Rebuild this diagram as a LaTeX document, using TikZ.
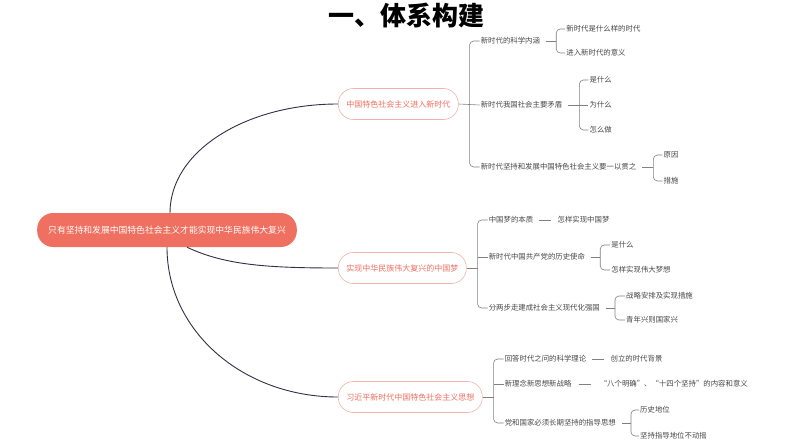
\documentclass[tikz,border=0pt]{standalone}
\usepackage{fontspec}
\newfontfamily\cjk{Noto Sans CJK SC}
\usepackage{xcolor}
\usetikzlibrary{positioning, calc}

\definecolor{salmon}{HTML}{EF6F60}
\definecolor{pale}{HTML}{F0B4AC}
\definecolor{navy}{HTML}{2E3046}
\definecolor{txt}{HTML}{464646}
\definecolor{twig}{HTML}{808080}

\begin{document}
\begin{tikzpicture}[
    x=1pt, y=-1pt,
    font=\cjk,
    root/.style={fill=salmon, text=white, rounded corners=16pt, minimum height=34pt, inner xsep=11pt, font=\cjk\fontsize{8.8}{10}\selectfont},
    topic/.style={draw=pale, fill=white, text=salmon, rounded corners=15pt, minimum height=31pt, inner xsep=8pt, line width=0.6pt, font=\cjk\fontsize{8}{10}\selectfont},
    leaf/.style={anchor=west, inner sep=1pt, text=txt, font=\cjk\fontsize{7.4}{9}\selectfont},
    trunk/.style={draw=navy, line width=0.9pt},
    twig/.style={draw=twig, line width=0.6pt, rounded corners=4pt}
]
\useasboundingbox (0,0) rectangle (794,447);

% title
\node[font=\cjk\bfseries\fontsize{26}{30}\selectfont] (title) at (406,16) {一、体系构建};

% centre and main topics
\node[root] (root) at (167,230) {只有坚持和发展中国特色社会主义才能实现中华民族伟大复兴};
\node[topic, anchor=west] (t1) at (338,104) {中国特色社会主义进入新时代};
\node[topic, anchor=west] (t2) at (338,268) {实现中华民族伟大复兴的中国梦};
\node[topic, anchor=west] (t3) at (338,397) {习近平新时代中国特色社会主义思想};

\draw[trunk] ([xshift=3pt]root.north) .. controls +(0,-62) and +(-92,0) .. (t1.west);
\draw[trunk] ([xshift=20pt]root.south) .. controls +(38,18) and +(-70,0) .. (t2.west);
\draw[trunk] (root.south) .. controls +(0,84) and +(-95,0) .. (t3.west);

% branch 1
\coordinate (b1) at ($(t1.east)+(11,0)$);
\node[leaf] (a1) at ($(b1)+(10,-63)$) {新时代的科学内涵};
\node[leaf] (a2) at ($(b1)+(10,1)$) {新时代我国社会主要矛盾};
\node[leaf] (a3) at ($(b1)+(10,63)$) {新时代坚持和发展中国特色社会主义要一以贯之};
\draw[twig] (t1.east) -- (a2.west);
\draw[twig] (a1.west) -| (b1) |- (a3.west);

\coordinate (b11) at ($(a1.east)+(15,0)$);
\node[leaf] (a11) at ($(b11)+(9,-12)$) {新时代是什么样的时代};
\node[leaf] (a12) at ($(b11)+(9,12)$) {进入新时代的意义};
\draw[twig] ([xshift=5pt]a1.east) -- (b11);
\draw[twig] (a11.west) -| (b11) |- (a12.west);

\coordinate (b21) at ($(a2.east)+(16,0)$);
\node[leaf] (a21) at ($(b21)+(9,-25)$) {是什么};
\node[leaf] (a22) at ($(b21)+(9,0)$) {为什么};
\node[leaf] (a23) at ($(b21)+(9,25)$) {怎么做};
\draw[twig] ([xshift=5pt]a2.east) -- (a22.west);
\draw[twig] (a21.west) -| (b21) |- (a23.west);

\coordinate (b31) at ($(a3.east)+(16,0)$);
\node[leaf] (a31) at ($(b31)+(9,-12)$) {原因};
\node[leaf] (a32) at ($(b31)+(9,14)$) {措施};
\draw[twig] ([xshift=5pt]a3.east) -- (b31);
\draw[twig] (a31.west) -| (b31) |- (a32.west);

% branch 2
\coordinate (b2) at ($(t2.east)+(11,0)$);
\node[leaf] (c1) at ($(b2)+(10,-48)$) {中国梦的本质};
\node[leaf] (c2) at ($(b2)+(10,-11)$) {新时代中国共产党的历史使命};
\node[leaf] (c3) at ($(b2)+(10,40)$) {分两步走建成社会主义现代化强国};
\draw[twig] (t2.east) -- (b2);
\draw[twig] (c1.west) -| (b2) |- (c3.west);
\draw[twig] (c2.west) -- (c2.west -| b2);

\node[leaf, right=22pt of c1] (c11) {怎样实现中国梦};
\draw[twig] ([xshift=5pt]c1.east) -- ([xshift=-5pt]c11.west);

\coordinate (b22) at ($(c2.east)+(14,0)$);
\node[leaf] (c21) at ($(b22)+(10,-12)$) {是什么};
\node[leaf] (c22) at ($(b22)+(10,13)$) {怎样实现伟大梦想};
\draw[twig] ([xshift=5pt]c2.east) -- (b22);
\draw[twig] (c21.west) -| (b22) |- (c22.west);

\coordinate (b23) at ($(c3.east)+(14,0)$);
\node[leaf] (c31) at ($(b23)+(10,-12)$) {战略安排及实现措施};
\node[leaf] (c32) at ($(b23)+(10,12)$) {青年兴则国家兴};
\draw[twig] ([xshift=5pt]c3.east) -- (b23);
\draw[twig] (c31.west) -| (b23) |- (c32.west);

% branch 3
\coordinate (b3) at ($(t3.east)+(11,0)$);
\node[leaf] (d1) at ($(b3)+(10,-38)$) {回答时代之问的科学理论};
\node[leaf] (d2) at ($(b3)+(10,-13)$) {新理念新思想新战略};
\node[leaf] (d3) at ($(b3)+(10,26)$) {党和国家必须长期坚持的指导思想};
\draw[twig] (t3.east) -- (b3);
\draw[twig] (d1.west) -| (b3) |- (d3.west);
\draw[twig] (d2.west) -- (d2.west -| b3);

\node[leaf, right=22pt of d1] (d11) {创立的时代背景};
\draw[twig] ([xshift=5pt]d1.east) -- ([xshift=-5pt]d11.west);
\node[leaf, right=26pt of d2] (d21) {“八个明确”、“十四个坚持”的内容和意义};
\draw[twig] ([xshift=6pt]d2.east) -- ([xshift=-8pt]d21.west);

\coordinate (b33) at ($(d3.east)+(14,0)$);
\node[leaf] (d31) at ($(b33)+(8,-13)$) {历史地位};
\node[leaf] (d32) at ($(b33)+(8,13)$) {坚持指导地位不动摇};
\draw[twig] ([xshift=5pt]d3.east) -- (b33);
\draw[twig] (d31.west) -| (b33) |- (d32.west);

\end{tikzpicture}
\end{document}
